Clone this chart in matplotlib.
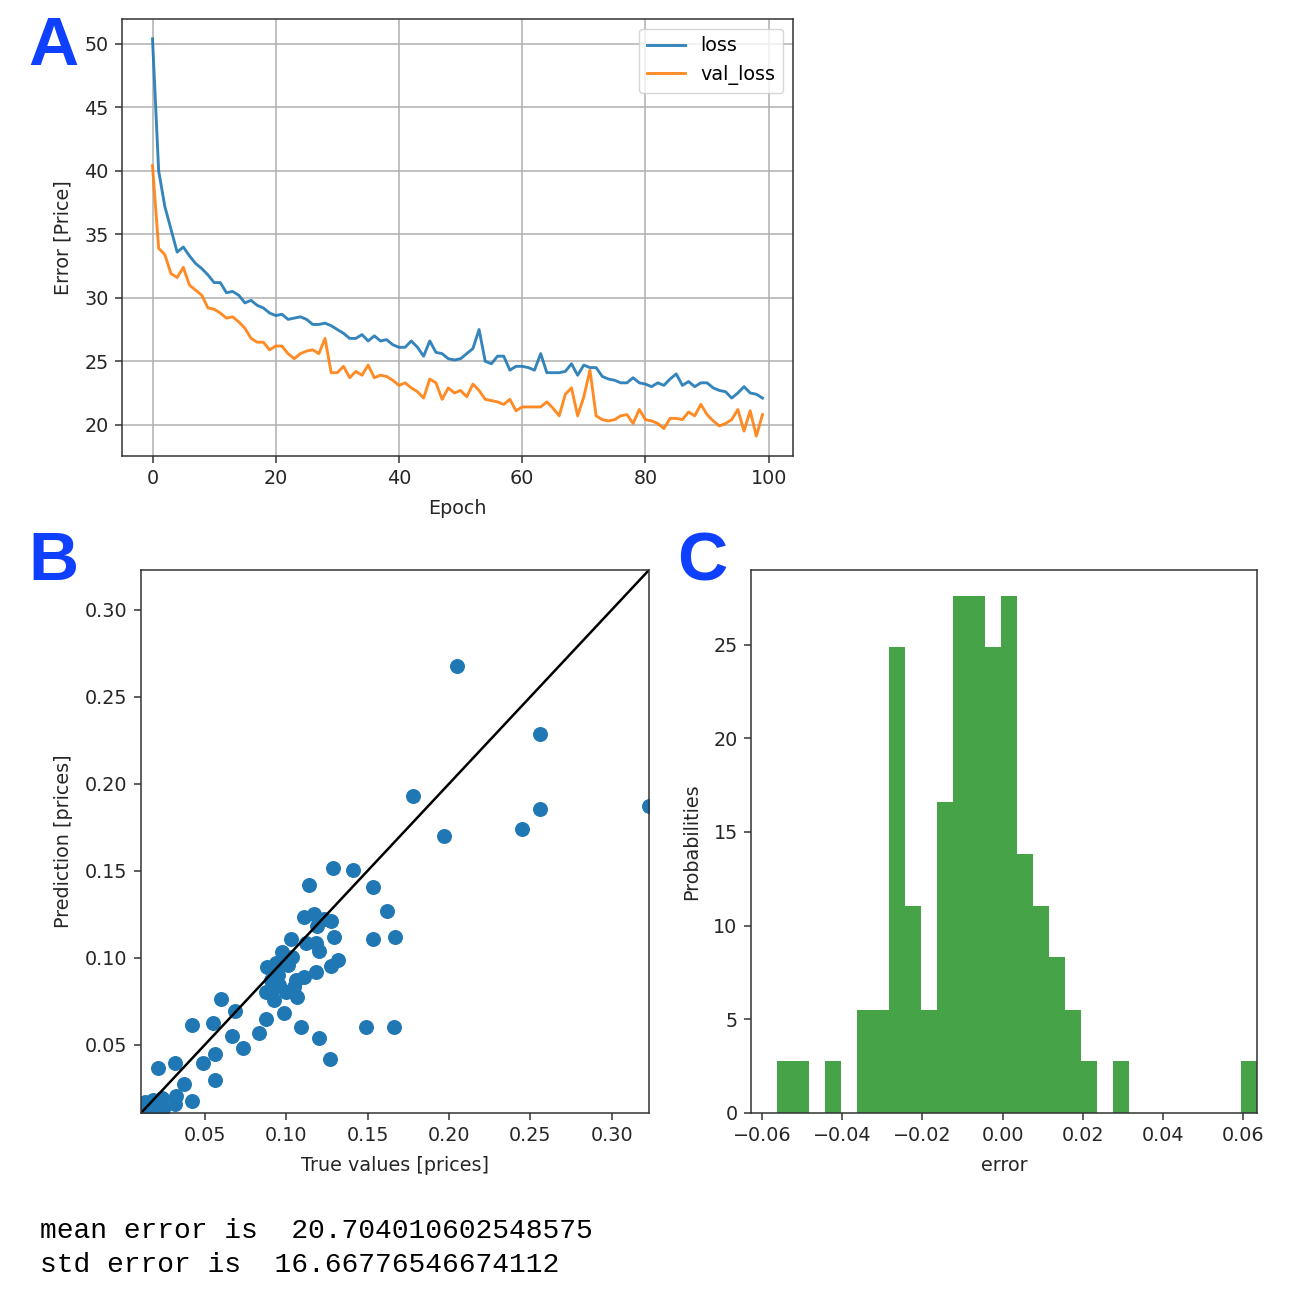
import numpy as np
import matplotlib
matplotlib.use("Agg")
import matplotlib.pyplot as plt

# ---------------- data ----------------
loss = [50.4, 40.0, 37.2, 35.4, 33.6, 34.0, 33.3, 32.7, 32.3, 31.8,
        31.2, 31.2, 30.4, 30.5, 30.2, 29.6, 29.8, 29.4, 29.2, 28.8,
        28.6, 28.7, 28.3, 28.4, 28.5, 28.3, 27.9, 27.9, 28.0, 27.8,
        27.5, 27.2, 26.8, 26.8, 27.1, 26.6, 27.0, 26.6, 26.7, 26.3,
        26.1, 26.1, 26.6, 26.1, 25.4, 26.6, 25.7, 25.6, 25.2, 25.1,
        25.2, 25.6, 26.0, 27.5, 25.0, 24.8, 25.4, 25.4, 24.3, 24.6,
        24.6, 24.5, 24.3, 25.6, 24.1, 24.1, 24.1, 24.2, 24.8, 23.9,
        24.7, 24.5, 24.5, 23.8, 23.6, 23.5, 23.3, 23.3, 23.7, 23.3,
        23.2, 23.0, 23.3, 23.1, 23.6, 24.0, 23.1, 23.4, 23.0, 23.3,
        23.3, 22.9, 22.7, 22.6, 22.1, 22.5, 23.0, 22.5, 22.4, 22.1]
val_loss = [40.4, 33.9, 33.4, 31.9, 31.6, 32.4, 31.0, 30.6, 30.2, 29.2,
            29.1, 28.8, 28.4, 28.5, 28.1, 27.6, 26.8, 26.5, 26.5, 25.9,
            26.2, 26.2, 25.6, 25.2, 25.6, 25.8, 25.9, 25.6, 26.8, 24.1,
            24.1, 24.6, 23.7, 24.2, 23.9, 24.7, 23.7, 23.9, 23.8, 23.5,
            23.1, 23.3, 22.9, 22.6, 22.1, 23.6, 23.3, 22.0, 22.9, 22.5,
            22.7, 22.2, 23.2, 22.7, 22.0, 21.9, 21.8, 21.6, 22.0, 21.1,
            21.4, 21.4, 21.4, 21.4, 21.8, 21.3, 20.7, 22.4, 22.9, 20.7,
            22.2, 24.3, 20.7, 20.4, 20.3, 20.4, 20.7, 20.8, 20.1, 21.2,
            20.4, 20.3, 20.1, 19.7, 20.5, 20.5, 20.4, 21.0, 20.7, 21.6,
            20.8, 20.3, 19.9, 20.1, 20.4, 21.2, 19.5, 21.1, 19.1, 20.8]
epochs = list(range(len(loss)))

true_values = [0.2052, 0.2559, 0.1782, 0.2559, 0.3230, 0.2447, 0.1967, 0.1287, 0.1411, 0.1533,
               0.1139, 0.1619, 0.1533, 0.1668,
               0.1108, 0.1169, 0.1231, 0.1272, 0.1292, 0.1027, 0.1119, 0.1180, 0.1200, 0.0976,
               0.1037, 0.0986, 0.0884, 0.0935, 0.1272, 0.1317, 0.1180, 0.1108, 0.1057, 0.0945,
               0.0904, 0.0955, 0.0874, 0.0925, 0.0996, 0.1047, 0.1067, 0.0986, 0.0874, 0.0833,
               0.1092, 0.1492, 0.1664, 0.1200, 0.0950, 0.0920, 0.1010, 0.1190, 0.1266,
               0.0682, 0.0599, 0.0549, 0.0422, 0.0669, 0.0731, 0.0487, 0.0560, 0.0560, 0.0373,
               0.0313, 0.0212, 0.0422, 0.0321, 0.0313, 0.0235, 0.0183, 0.0131, 0.0170, 0.0209,
               0.0118, 0.0107, 0.0150, 0.0190, 0.0240]
predictions = [0.2677, 0.2286, 0.1933, 0.1853, 0.1874, 0.1738, 0.1701, 0.1518, 0.1507, 0.1406,
               0.1418, 0.1268, 0.1106, 0.1118,
               0.1236, 0.1249, 0.1222, 0.1212, 0.1117, 0.1106, 0.1083, 0.1087, 0.1041, 0.1035,
               0.1006, 0.0987, 0.0949, 0.0968, 0.0953, 0.0987, 0.0920, 0.0888, 0.0872, 0.0911,
               0.0872, 0.0844, 0.0805, 0.0758, 0.0805, 0.0834, 0.0777, 0.0681, 0.0647, 0.0566,
               0.0604, 0.0604, 0.0604, 0.0537, 0.0900, 0.0820, 0.0960, 0.1180, 0.0420,
               0.0694, 0.0762, 0.0626, 0.0615, 0.0547, 0.0481, 0.0397, 0.0444, 0.0294, 0.0273,
               0.0395, 0.0364, 0.0177, 0.0207, 0.0161, 0.0196, 0.0184, 0.0172, 0.0137, 0.0149,
               0.0125, 0.0118, 0.0120, 0.0125, 0.0130]

hist_first_edge = -0.0562
hist_bin_width = 0.00399
hist_probabilities = [2.76, 2.76, 0, 2.76, 0, 5.52, 5.52, 24.85, 11.05, 5.52,
                      16.6, 27.6, 27.6, 24.85, 27.6, 13.8, 11.05, 8.3, 5.52, 2.76,
                      0, 2.76, 0, 0, 0, 0, 0, 0, 0, 2.76]
hist_xlim = [-0.0627, 0.0634]

mean_error = "20.704010602548575"
std_error = "16.66776546674112"

# ---------------- figure ----------------
W, H = 1308, 1290
fig = plt.figure(figsize=(W / 100, H / 100), dpi=100)
plt.rcParams['font.family'] = ['DejaVu Sans']

def ax_at(l, t, r, b):
    return fig.add_axes([l / W, 1 - b / H, (r - l) / W, (b - t) / H])

k = 1.38  # screenshot scale relative to default matplotlib points
tick_fs = 10 * k
label_fs = 10 * k
sp_lw = 0.8 * k
text_color = '#262626'

def style(ax):
    for s in ax.spines.values():
        s.set_linewidth(sp_lw)
        s.set_color('#333333')
    ax.tick_params(labelsize=tick_fs, width=sp_lw, length=3.5 * k, pad=3.5 * k,
                   colors='#333333', labelcolor=text_color)
    ax.xaxis.labelpad = 4 * k + 2
    ax.yaxis.labelpad = 4 * k + 3

# Panel A
axA = ax_at(122, 19, 793, 456)
axA.plot(epochs, loss, color='#1f77b4', lw=1.5 * k, label='loss', alpha=0.9)
axA.plot(epochs, val_loss, color='#ff7f0e', lw=1.5 * k, label='val_loss', alpha=0.9)
axA.grid(True, color='#b0b0b0', lw=0.8 * k)
axA.set_xlabel('Epoch', fontsize=label_fs, color=text_color)
axA.set_ylabel('Error [Price]', fontsize=label_fs, color=text_color)
axA.set_yticks([20, 25, 30, 35, 40, 45, 50])
axA.legend(loc='upper right', fontsize=label_fs)
style(axA)

# Panel B
axB = ax_at(141, 570, 649, 1113)
axB.scatter(true_values, predictions, s=95, color='#1f77b4')
lims = [min(min(true_values), min(predictions)), max(max(true_values), max(predictions))]
axB.set_xlim(lims)
axB.set_ylim(lims)
axB.plot(lims, lims, color='k', lw=1.8)
axB.set_xlabel('True values [prices]', fontsize=label_fs, color=text_color)
axB.set_ylabel('Prediction [prices]', fontsize=label_fs, color=text_color)
axB.set_xticks([0.05, 0.10, 0.15, 0.20, 0.25, 0.30])
axB.set_yticks([0.05, 0.10, 0.15, 0.20, 0.25, 0.30])
style(axB)

# Panel C
axC = ax_at(751, 570, 1257, 1113)
edges = [hist_first_edge + i * hist_bin_width for i in range(len(hist_probabilities))]
axC.bar(edges, hist_probabilities, width=hist_bin_width, align='edge',
        color='g', alpha=0.72, linewidth=0)
axC.set_xlim(hist_xlim)
axC.set_ylim(0, max(hist_probabilities) * 1.05)
axC.set_xticks([-0.06, -0.04, -0.02, 0.0, 0.02, 0.04, 0.06])
axC.set_yticks([0, 5, 10, 15, 20, 25])
axC.set_xlabel('error', fontsize=label_fs, color=text_color)
axC.set_ylabel('Probabilities', fontsize=label_fs, color=text_color)
style(axC)

# Panel letters
letter_kw = dict(fontsize=50, fontweight='bold', color='#1040ff',
                 family=['Liberation Sans', 'DejaVu Sans'], va='center', ha='center')
fig.text(53 / W, 1 - 47 / H, 'A', **letter_kw)
fig.text(53 / W, 1 - 562 / H, 'B', **letter_kw)
fig.text(702 / W, 1 - 562 / H, 'C', **letter_kw)

# Bottom text
mono_kw = dict(fontsize=20.2, family=['Liberation Mono', 'DejaVu Sans Mono'],
               color='black', va='center', ha='left')
fig.text(40 / W, 1 - 1231 / H, 'mean error is  ' + mean_error, **mono_kw)
fig.text(40 / W, 1 - 1265 / H, 'std error is  ' + std_error, **mono_kw)

fig.savefig('out.png', dpi=100)
